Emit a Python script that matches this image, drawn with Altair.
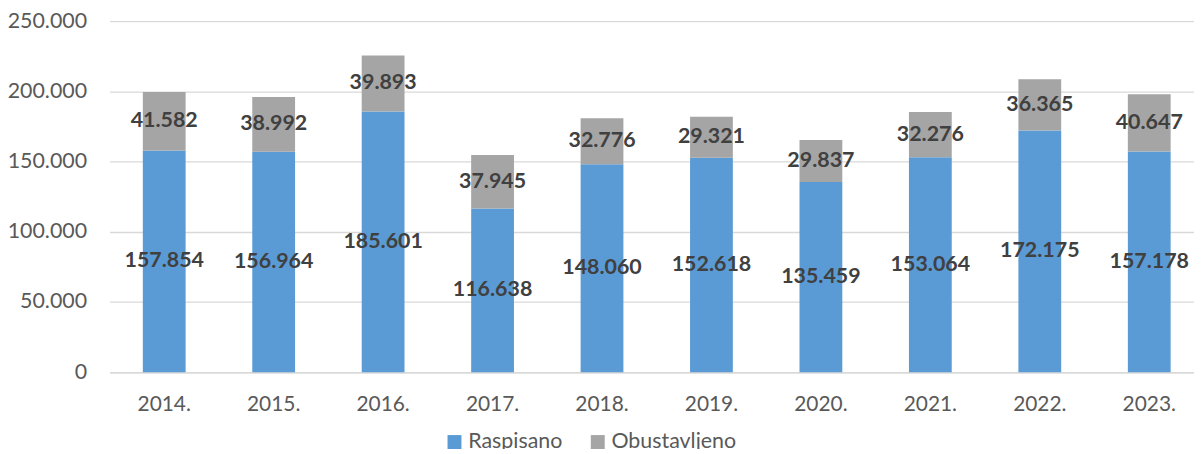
import altair as alt
import pandas as pd

years = ["2014.", "2015.", "2016.", "2017.", "2018.", "2019.", "2020.", "2021.", "2022.", "2023."]
raspisano = [157854, 156964, 185601, 116638, 148060, 152618, 135459, 153064, 172175, 157178]
obustavljeno = [41582, 38992, 39893, 37945, 32776, 29321, 29837, 32276, 36365, 40647]
series = ["Raspisano", "Obustavljeno"]
colors = ["#5B9BD5", "#A5A5A5"]
y_ticks = [0, 50000, 100000, 150000, 200000, 250000]


def fmt(v):
    return f"{v:,}".replace(",", ".")


rows = []
for i, y in enumerate(years):
    for k, (name, vals) in enumerate(zip(series, [raspisano, obustavljeno])):
        rows.append({"year": y, "series": name, "ord": k, "value": vals[i], "label": fmt(vals[i])})
df = pd.DataFrame(rows)

FONT = "Lato"

base = alt.Chart(df).transform_stack(
    stack="value", groupby=["year"], as_=["v0", "v1"], sort=[alt.SortField("ord", order="ascending")]
).transform_calculate(mid="(datum.v0 + datum.v1) / 2")

x = alt.X(
    "year:N",
    sort=years,
    title=None,
    scale=alt.Scale(paddingInner=0.609, paddingOuter=0.259, align=0.588),
    axis=alt.Axis(
        labelAngle=0, labelFontSize=21, labelColor="#595959", labelFont=FONT,
        ticks=False, domainColor="#D9D9D9", domainWidth=1.3, labelPadding=21,
        grid=False,
    ),
)

bars = base.mark_bar().encode(
    x=x,
    y=alt.Y(
        "v0:Q",
        title=None,
        scale=alt.Scale(domain=[0, 250000], nice=False),
        axis=alt.Axis(
            values=y_ticks, labelFontSize=21.5, labelColor="#595959", labelFont=FONT,
            ticks=False, domain=False, gridColor="#D9D9D9", gridWidth=1.3,
            labelPadding=23, minExtent=102, maxExtent=102,
            labelExpr="replace(format(datum.value, ','), ',', '.')",
        ),
    ),
    y2="v1:Q",
    color=alt.Color(
        "series:N",
        scale=alt.Scale(domain=series, range=colors),
        legend=alt.Legend(
            title=None, orient="none", direction="horizontal", legendX=336, legendY=412,
            labelFontSize=21.5, labelColor="#595959", labelFont=FONT,
            symbolType="square", symbolSize=196, symbolStrokeWidth=0,
            labelOffset=3, columnPadding=24,
        ),
    ),
)

labels = base.mark_text(font=FONT, fontSize=21.5, fontWeight="bold", color="#404040", baseline="middle").encode(
    x=alt.X("year:N", sort=years),
    y=alt.Y("mid:Q"),
    text="label:N",
)

chart = alt.layer(bars, labels).properties(
    width=1090, height=353,
    autosize=alt.AutoSizeParams(type="none"),
    padding={"left": 102, "top": 12, "right": 0, "bottom": 76},
).configure_view(stroke=None)

chart.save("out.html", embed_options={"renderer": "svg", "actions": False})
